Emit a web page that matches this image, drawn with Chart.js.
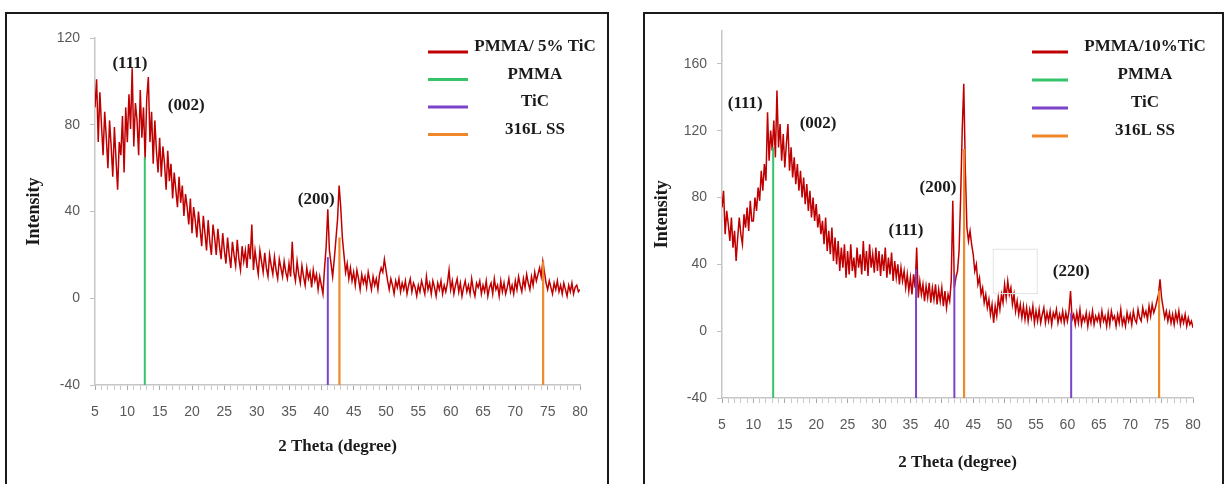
<!DOCTYPE html>
<html>
<head>
<meta charset="utf-8">
<script src="https://cdn.jsdelivr.net/npm/chart.js@4.4.0/dist/chart.umd.min.js"></script>
<style>
  html, body { margin: 0; padding: 0; background: #fff; }
  body { width: 1225px; height: 484px; position: relative; overflow: hidden; }
  .panel { position: absolute; top: 12px; height: 480px; box-sizing: border-box;
           border: 2px solid #1a1a1a; border-bottom: none; }
  canvas { position: absolute; }
</style>
</head>
<body>
<div class="panel" style="left:5px; width:604px;"></div>
<div class="panel" style="left:643px; width:581px;"></div>
<canvas id="xrd5" width="602" height="472" style="left:6px; top:12px;"></canvas>
<canvas id="xrd10" width="579" height="472" style="left:644px; top:12px;"></canvas>
<script>
// XRD scans, 2θ from 5° to 80° in 0.25° steps
const scanStart = 5;
const scanStep = 0.25;

const thetaTicks = [5, 10, 15, 20, 25, 30, 35, 40, 45, 50, 55, 60, 65, 70, 75, 80];
const intensityTicks5 = [-40, 0, 40, 80, 120];
const intensityTicks10 = [-40, 0, 40, 80, 120, 160];

// PMMA / 5% TiC
const intensity5 = [
  88,101,72,95,80,66,86,74,60,82,70,56,79,64,50,72,66,84,58,88,
  72,94,78,106,70,90,82,66,96,74,88,64,92,102,72,86,62,82,68,58,
  74,56,70,62,50,68,54,62,46,58,50,42,56,44,52,38,48,42,34,46,
  30,42,36,28,40,32,24,38,30,22,36,26,20,34,28,20,32,24,18,30,
  22,16,28,20,14,26,20,15,27,18,13,24,17,22,14,25,18,34,13,22,
  16,11,22,17,12,21,14,10,20,15,11,19,13,9,18,14,10,17,12,9,
  16,10,26,12,8,17,11,7,15,10,6,14,9,12,5,13,8,11,4,10,
  6,2,14,24,41,22,16,10,18,27,36,52,42,28,20,12,16,9,14,8,
  12,6,13,9,4,11,7,10,5,12,8,4,10,6,9,4,11,14,12,18,
  13,8,4,9,6,2,8,5,9,3,7,4,8,2,6,9,3,7,5,1,
  6,3,8,5,2,10,4,7,2,8,5,1,7,4,8,2,6,3,7,13,
  4,8,2,6,9,3,7,1,5,8,3,6,2,9,4,1,7,5,8,2,
  6,3,8,1,5,7,2,9,4,6,1,8,3,7,2,5,9,3,6,2,
  8,4,10,6,3,9,5,11,7,4,10,6,12,8,11,14,10,17,12,7,
  4,8,5,2,7,4,8,3,6,2,7,4,1,6,3,7,2,5,6,3,4
];

// PMMA / 10% TiC
const intensity10 = [
  74,84,58,72,64,54,68,50,60,42,56,68,58,52,70,62,74,60,78,66,
  66,80,72,86,78,96,84,100,90,131,102,120,108,126,104,144,110,124,102,118,
  98,112,124,96,110,92,104,88,100,84,96,80,92,76,88,72,84,68,80,66,
  76,62,70,58,66,52,68,48,60,46,62,42,56,40,54,36,50,38,52,32,
  48,34,52,36,44,32,50,38,46,34,54,36,48,33,52,38,46,35,50,36,
  48,33,46,36,50,32,44,34,47,30,42,32,40,28,38,30,36,26,34,24,
  32,22,34,26,50,20,30,22,28,18,27,20,29,17,26,19,28,16,25,18,
  26,15,24,14,22,18,30,78,26,32,36,48,80,120,148,96,62,54,60,52,
  46,36,40,28,32,22,26,17,22,14,19,10,16,5,15,9,20,13,22,17,
  28,20,30,22,26,16,22,12,18,10,16,8,15,7,14,6,13,8,15,5,
  12,6,13,5,10,14,5,11,6,12,4,11,8,13,5,10,6,12,5,11,
  6,12,24,7,10,4,11,5,13,4,9,6,11,3,10,5,12,4,9,6,
  10,4,12,6,9,3,11,4,12,7,9,3,10,5,13,4,8,3,11,6,
  10,4,12,7,5,13,8,6,14,9,12,7,15,9,16,11,14,18,22,31,
  20,14,8,12,6,11,5,10,4,11,6,12,4,9,5,10,3,8,4,6,2
];

// reference reflections (angle, stick top)
const pmmaAngle5 = [12.7],       pmmaTop5 = [65];
const ticAngle5  = [41.0],       ticTop5  = [19];
const ssAngle5   = [42.8, 74.3], ssTop5   = [28, 17];

const pmmaAngle10 = [13.15],            pmmaTop10 = [110];
const ticAngle10  = [35.9, 42.0, 60.6], ticTop10  = [37, 34, 11];
const ssAngle10   = [43.55, 74.6],      ssTop10   = [109, 24];

const RED = '#c00000', GREEN = '#35c46a', PURPLE = '#7a43c8', ORANGE = '#f0882a';

function scanPoints(values) {
    return values.map((v, i) => ({ x: scanStart + i * scanStep, y: v }));
}

function sticks(angles, tops, base) {
    const pts = [];
    angles.forEach((a, i) => {
        pts.push({ x: a, y: base }, { x: a, y: tops[i] }, { x: a, y: null });
    });
    return pts;
}

// peak indices and the legend block drawn over the plot
function makeNotes(cfg) {
    return {
        id: 'notes',
        afterDatasetsDraw(chart) {
            const { ctx, scales: { x, y } } = chart;
            ctx.save();
            ctx.font = 'bold 17px "Liberation Serif", "Times New Roman", serif';
            ctx.fillStyle = '#1a1a1a';
            ctx.textAlign = 'center';
            ctx.textBaseline = 'middle';
            cfg.peaks.forEach(p => {
                ctx.fillText(p.text, x.getPixelForValue(p.x), y.getPixelForValue(p.y));
            });

            if (cfg.box) {
                const x0 = x.getPixelForValue(cfg.box[0]), x1 = x.getPixelForValue(cfg.box[1]);
                const y0 = y.getPixelForValue(cfg.box[2]), y1 = y.getPixelForValue(cfg.box[3]);
                ctx.strokeStyle = '#e4e4e4';
                ctx.lineWidth = 1;
                ctx.strokeRect(x0, y0, x1 - x0, y1 - y0);
            }

            const lg = cfg.legend;
            lg.items.forEach((it, i) => {
                const ty = lg.top + i * lg.gap;
                ctx.strokeStyle = it.color;
                ctx.lineWidth = 3;
                ctx.beginPath();
                ctx.moveTo(lg.x0, ty + lg.lineShift);
                ctx.lineTo(lg.x1, ty + lg.lineShift);
                ctx.stroke();
                ctx.fillText(it.text, lg.textX, ty);
            });
            ctx.restore();
        }
    };
}

function buildChart(id, o) {
    const ctx = document.getElementById(id).getContext('2d');
    const tickFont = { family: '"Liberation Sans", Arial, sans-serif', size: 14 };
    const xTitleFont = { family: '"Liberation Serif", "Times New Roman", serif', size: 17, weight: 'bold' };
    const yTitleFont = { family: '"Liberation Serif", "Times New Roman", serif', size: 18, weight: 'bold' };

    return new Chart(ctx, {
        type: 'line',
        data: {
            datasets: [
                { data: sticks(o.pmma[0], o.pmma[1], o.yMin), borderColor: GREEN, borderWidth: 2, order: 1 },
                { data: sticks(o.tic[0], o.tic[1], o.yMin), borderColor: PURPLE, borderWidth: 2, order: 1 },
                { data: sticks(o.ss[0], o.ss[1], o.yMin), borderColor: ORANGE, borderWidth: 2.2, order: 1 },
                { data: scanPoints(o.values), borderColor: RED, borderWidth: 1.5, order: 2 }
            ]
        },
        options: {
            responsive: false,
            animation: false,
            events: [],
            layout: { padding: o.padding },
            elements: { point: { radius: 0 }, line: { tension: 0, borderJoinStyle: 'miter' } },
            plugins: { legend: { display: false }, tooltip: { enabled: false } },
            scales: {
                x: {
                    type: 'linear',
                    min: 5, max: 80,
                    afterFit: s => { s.height = o.xHeight; },
                    border: { display: true, color: '#c6c6c6', width: 1.5 },
                    grid: { drawOnChartArea: false, drawTicks: true, tickLength: 5,
                            color: c => thetaTicks.includes(c.tick.value) ? '#a8a8a8' : '#c8c8c8' },
                    ticks: {
                        stepSize: 1, autoSkip: false, maxRotation: 0, padding: 14,
                        color: '#595959', font: tickFont,
                        callback: v => thetaTicks.includes(v) ? String(v) : ''
                    },
                    title: { display: true, text: '2 Theta (degree)', color: '#1a1a1a', font: xTitleFont,
                             padding: { top: 0, bottom: o.xTitlePad } }
                },
                y: {
                    min: o.yMin, max: o.yMax,
                    afterFit: s => { s.width = o.yWidth; },
                    border: { display: true, color: '#c6c6c6', width: 1.5 },
                    grid: { drawOnChartArea: false, drawTicks: true, tickLength: 5, color: '#c0c0c0' },
                    ticks: {
                        stepSize: 40, includeBounds: false, padding: 10,
                        color: '#595959', font: tickFont,
                        callback: v => o.yTicks.includes(v) ? String(v) : null
                    },
                    title: { display: true, text: 'Intensity', color: '#1a1a1a', font: yTitleFont,
                             padding: { top: o.yTitlePad, bottom: 0 } }
                }
            }
        },
        plugins: [makeNotes(o.notes)]
    });
}

buildChart('xrd5', {
    values: intensity5,
    pmma: [pmmaAngle5, pmmaTop5], tic: [ticAngle5, ticTop5], ss: [ssAngle5, ssTop5],
    yMin: -40, yMax: 120, yTicks: intensityTicks5,
    padding: { left: 0, top: 26, right: 28, bottom: 0 },
    yWidth: 89, xHeight: 99, xTitlePad: 27, yTitlePad: 18,
    notes: {
        peaks: [
            { text: '(111)', x: 10.4, y: 108 },
            { text: '(002)', x: 19.1, y: 89 },
            { text: '(200)', x: 39.2, y: 45.5 }
        ],
        legend: {
            x0: 422, x1: 462, textX: 529, top: 35, gap: 27.5, lineShift: 5,
            items: [
                { text: 'PMMA/ 5% TiC', color: RED },
                { text: 'PMMA', color: GREEN },
                { text: 'TiC', color: PURPLE },
                { text: '316L SS', color: ORANGE }
            ]
        }
    }
});

buildChart('xrd10', {
    values: intensity10,
    pmma: [pmmaAngle10, pmmaTop10], tic: [ticAngle10, ticTop10], ss: [ssAngle10, ssTop10],
    yMin: -40, yMax: 180, yTicks: intensityTicks10,
    padding: { left: 0, top: 15, right: 30, bottom: 0 },
    yWidth: 78, xHeight: 86, xTitlePad: 11, yTitlePad: 8,
    notes: {
        peaks: [
            { text: '(111)', x: 8.7, y: 136 },
            { text: '(002)', x: 20.3, y: 124 },
            { text: '(111)', x: 34.3, y: 60 },
            { text: '(200)', x: 39.4, y: 86 },
            { text: '(220)', x: 60.6, y: 35.5 }
        ],
        box: [48.2, 55.2, 49, 22.5],
        legend: {
            x0: 388, x1: 424, textX: 501, top: 35, gap: 28, lineShift: 5,
            items: [
                { text: 'PMMA/10%TiC', color: RED },
                { text: 'PMMA', color: GREEN },
                { text: 'TiC', color: PURPLE },
                { text: '316L SS', color: ORANGE }
            ]
        }
    }
});
</script>
</body>
</html>
